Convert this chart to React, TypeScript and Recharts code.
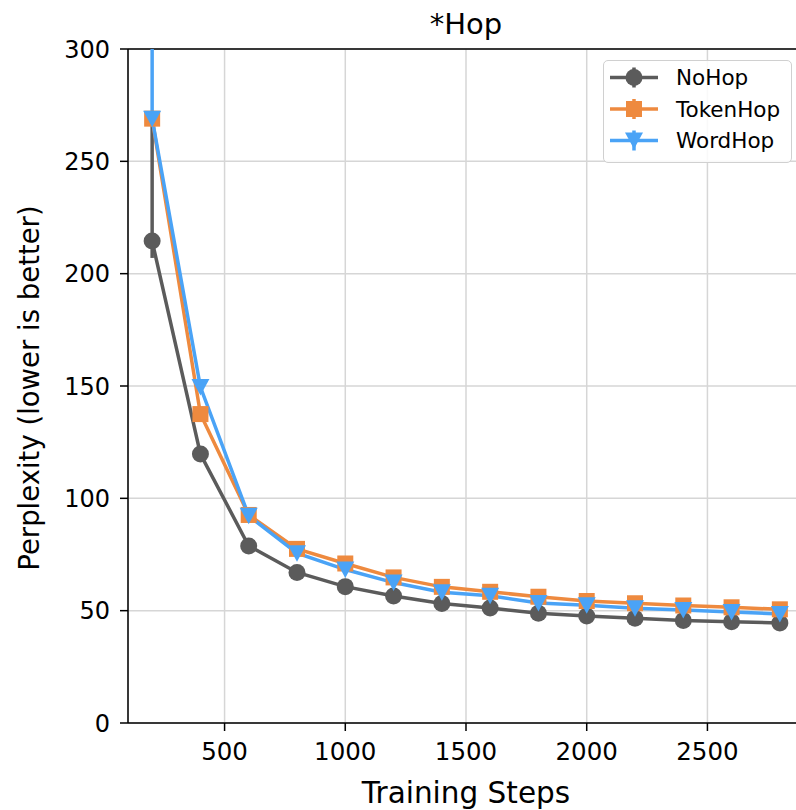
import React from 'react';
import { LineChart, Line, XAxis, YAxis, CartesianGrid, ErrorBar, ReferenceLine } from 'recharts';

const steps = [200, 400, 600, 800, 1000, 1200, 1400, 1600, 1800, 2000, 2200, 2400, 2600, 2800];
const noHop = [214.5, 119.7, 78.8, 67.0, 60.7, 56.5, 53.2, 51.2, 48.8, 47.6, 46.6, 45.6, 45.1, 44.5];
const tokenHop = [269, 137.5, 92.6, 77.5, 71.0, 64.8, 60.6, 58.4, 56.2, 54.3, 53.3, 52.3, 51.5, 50.6];
const wordHop = [269, 149.5, 92.2, 75.6, 68.3, 62.5, 58.2, 56.6, 53.4, 52.4, 51.1, 50.3, 49.4, 48.5];
const noHopErr: [number, number][] = [[7.5, 52], [0, 0], [0, 0], [0, 0], [0, 0], [0, 0], [0, 0], [0, 0], [0, 0], [0, 0], [0, 0], [0, 0], [0, 0], [0, 0]];
const wordHopErr: [number, number][] = [[0, 31], [0, 0], [0, 0], [0, 0], [0, 0], [0, 0], [0, 0], [0, 0], [0, 0], [0, 0], [0, 0], [0, 0], [0, 0], [0, 0]];
const xTicks = [500, 1000, 1500, 2000, 2500];
const yTicks = [0, 50, 100, 150, 200, 250, 300];
const seriesNames = ['NoHop', 'TokenHop', 'WordHop'];

const GRAY = '#5b5b5b';
const ORANGE = '#ee8a3f';
const BLUE = '#4aa3f6';
const FONT = '"DejaVu Sans", sans-serif';

const data = steps.map((s, i) => ({
  step: s,
  noHop: noHop[i],
  tokenHop: tokenHop[i],
  wordHop: wordHop[i],
  noHopErr: noHopErr[i],
  wordHopErr: wordHopErr[i],
}));

const CircleDot = (p: any) => (
  <circle key={p.key ?? `c-${p.index}`} cx={p.cx} cy={p.cy} r={8.5} fill={GRAY} />
);
const SquareDot = (p: any) => (
  <rect key={p.key ?? `s-${p.index}`} x={p.cx - 8} y={p.cy - 8} width={16} height={16} fill={ORANGE} />
);
const TriDot = (p: any) => (
  <polygon
    key={p.key ?? `t-${p.index}`}
    points={`${p.cx - 9},${p.cy - 8} ${p.cx + 9},${p.cy - 8} ${p.cx},${p.cy + 8.5}`}
    fill={BLUE}
  />
);

const YLabel = (props: any) => {
  const vb = props.viewBox || {};
  const cy = vb.y + vb.height / 2 + 2;
  return (
    <text x={29} y={cy} transform={`rotate(-90, 29, ${cy})`} textAnchor="middle" dominantBaseline="central"
      fontFamily={FONT} fontSize={27.5} fill="#000">
      Perplexity (lower is better)
    </text>
  );
};

const XLabel = (props: any) => {
  const vb = props.viewBox || {};
  const cx = vb.x + vb.width / 2;
  return (
    <text x={cx} y={803} textAnchor="middle" fontFamily={FONT} fontSize={29.5} fill="#000">
      Training Steps
    </text>
  );
};

const LegendBox = () => {
  const colors = [GRAY, ORANGE, BLUE];
  const ys = [17.5, 49, 80.5];
  return (
    <div style={{ position: 'absolute', left: 603, top: 60, width: 189, height: 103, border: '1.5px solid #d0d0d0', borderRadius: 5, background: 'rgba(255,255,255,0.85)', boxSizing: 'border-box' }}>
      <svg width={189} height={103} style={{ position: 'absolute', left: -1.5, top: -1.5 }}>
        {seriesNames.map((n, i) => {
          const y = ys[i];
          const c = colors[i];
          return (
            <g key={n}>
              <line x1={7} x2={55} y1={y} y2={y} stroke={c} strokeWidth={3.5} />
              <line x1={31} x2={31} y1={y - 10} y2={y + 10} stroke={c} strokeWidth={3.5} />
              {i === 0 && <circle cx={31} cy={y} r={8.5} fill={c} />}
              {i === 1 && <rect x={23} y={y - 8} width={16} height={16} fill={c} />}
              {i === 2 && <polygon points={`${22},${y - 8} ${40},${y - 8} ${31},${y + 8.5}`} fill={c} />}
              <text x={73} y={y} dominantBaseline="central" fontFamily={FONT} fontSize={21.5} fill="#000">{n}</text>
            </g>
          );
        })}
      </svg>
    </div>
  );
};

export default function App() {
  return (
    <div style={{ position: 'absolute', left: 0, top: 0, width: 796, height: 810, overflow: 'hidden', background: '#fff' }}>
      <div style={{ position: 'absolute', left: 0, width: 932, top: 10, textAlign: 'center', fontFamily: FONT, fontSize: 29, lineHeight: '29px' }}>
        *Hop
      </div>
      <LineChart width={830} height={810} data={data} margin={{ top: 49, right: 26, bottom: 0, left: 0 }}>
        <CartesianGrid stroke="#d6d6d6" strokeWidth={1.5} vertical horizontal />
        <XAxis
          dataKey="step"
          type="number"
          domain={[100, 2900]}
          ticks={xTicks}
          height={87}
          stroke="#000"
          strokeWidth={1.5}
          tickSize={8}
          tickMargin={12}
          tick={{ fontFamily: FONT, fontSize: 24.5, fill: '#000' }}
          tickLine={{ stroke: '#000', strokeWidth: 1.5 }}
          label={<XLabel />}
          allowDataOverflow
        />
        <YAxis
          type="number"
          domain={[0, 300]}
          ticks={yTicks}
          width={128}
          stroke="#000"
          strokeWidth={1.5}
          tickSize={8}
          tickMargin={10}
          tick={{ fontFamily: FONT, fontSize: 24, fill: '#000' }}
          tickLine={{ stroke: '#000', strokeWidth: 1.5 }}
          label={<YLabel />}
          allowDataOverflow
        />
        <ReferenceLine y={300} stroke="#000" strokeWidth={1.5} />
        <ReferenceLine x={2900} stroke="#000" strokeWidth={1.5} />
        <Line dataKey="noHop" stroke={GRAY} strokeWidth={3.5} dot={CircleDot} activeDot={false} isAnimationActive={false}>
          <ErrorBar dataKey="noHopErr" width={0} stroke={GRAY} strokeWidth={3.5} direction="y" />
        </Line>
        <Line dataKey="tokenHop" stroke={ORANGE} strokeWidth={3.5} dot={SquareDot} activeDot={false} isAnimationActive={false} />
        <Line dataKey="wordHop" stroke={BLUE} strokeWidth={3.5} dot={TriDot} activeDot={false} isAnimationActive={false}>
          <ErrorBar dataKey="wordHopErr" width={0} stroke={BLUE} strokeWidth={3.5} direction="y" />
        </Line>
      </LineChart>
      <LegendBox />
    </div>
  );
}
